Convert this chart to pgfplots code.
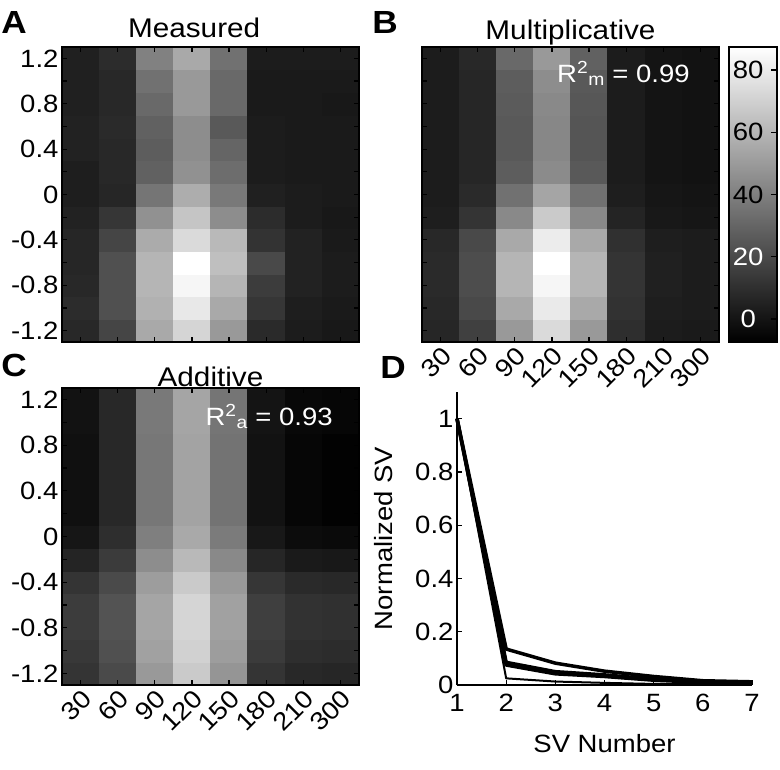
\documentclass[border=0pt]{standalone}
\usepackage{pgfplots}
\pgfplotsset{compat=1.18}
\usepackage{fontspec}
\setmainfont{Liberation Sans}[FakeStretch=1.1]
\newcommand\fs{\fontsize{25}{28}\selectfont}
\newcommand\ts{\fontsize{27}{30}\selectfont}
\newcommand\panel{\fontsize{32}{36}\selectfont\bfseries}
\newcommand\cb[1]{\makebox[31pt][c]{#1}}
\newcommand\frameit{\draw[line width=2.8pt] (rel axis cs:0,0) rectangle (rel axis cs:1,1);}
\pgfplotsset{
  /pgf/number format/assume math mode=true,
  heat/.style={
    scale only axis, width=297pt, height=295pt,
    xmin=-0.5, xmax=7.5, ymin=-1.3, ymax=1.3,
    enlargelimits=false, axis on top, clip=false,
    colormap={gr}{gray(0cm)=(0); gray(1cm)=(1)},
    point meta min=-7.4, point meta max=87.4,
    xtick={0,...,7},
    ytick={-1.2,-1.0,-0.8,-0.6,-0.4,-0.2,0,0.2,0.4,0.6,0.8,1.0,1.2},
    tick align=inside, major tick length=5pt,
    major tick style={line width=1.2pt, black},
    tick label style={font=\fs},
    title style={font=\ts, at={(0.5,1)}, anchor=base},
  },
  ylab/.style={yticklabels={-1.2,{},-0.8,{},-0.4,{},0,{},0.4,{},0.8,{},1.2}},
  noylab/.style={yticklabels={}},
  xlab/.style={xticklabels={30,60,90,120,150,180,210,300},
    xticklabel style={rotate=45, anchor=north east, inner sep=2pt}},
  noxlab/.style={xticklabels={}},
}
\begin{document}
\begin{tikzpicture}
\path[use as bounding box] (0pt,0pt) rectangle (780pt,-770pt);
% ---------- A: Measured
\begin{axis}[heat, ylab, noxlab, at={(62pt,-342pt)}, anchor=south west,
  title={Measured}, title style={at={(0.445,1)}, yshift=3pt}]
\addplot[matrix plot*, mesh/cols=8, point meta=explicit] coordinates {
(0,-1.2)[7.5] (1,-1.2)[17.9] (2,-1.2)[55.1] (3,-1.2)[71.4] (4,-1.2)[49.1] (5,-1.2)[8.2] (6,-1.2)[3.0] (7,-1.2)[1.5]
(0,-1.0)[9.0] (1,-1.0)[22.3] (2,-1.0)[58.0] (3,-1.0)[78.1] (4,-1.0)[55.1] (5,-1.0)[12.7] (6,-1.0)[3.8] (7,-1.0)[2.3]
(0,-0.8)[7.5] (1,-0.8)[22.3] (2,-0.8)[59.5] (3,-0.8)[83.3] (4,-0.8)[59.5] (5,-0.8)[14.9] (6,-0.8)[5.2] (7,-0.8)[3.0]
(0,-0.6)[6.7] (1,-0.6)[22.3] (2,-0.6)[59.5] (3,-0.6)[87.4] (4,-0.6)[63.2] (5,-0.6)[19.4] (6,-0.6)[5.2] (7,-0.6)[3.0]
(0,-0.4)[6.7] (1,-0.4)[17.9] (2,-0.4)[55.8] (3,-0.4)[72.9] (4,-0.4)[61.0] (5,-0.4)[11.6] (6,-0.4)[5.2] (7,-0.4)[2.3]
(0,-0.2)[5.2] (1,-0.2)[12.7] (2,-0.2)[46.1] (3,-0.2)[65.5] (4,-0.2)[44.7] (5,-0.2)[9.0] (6,-0.2)[3.0] (7,-0.2)[1.5]
(0,0)[3.8] (1,0)[6.7] (2,0)[35.7] (3,0)[56.5] (4,0)[37.2] (5,0)[4.5] (6,0)[3.0] (7,0)[2.3]
(0,0.2)[3.8] (1,0.2)[7.5] (2,0.2)[28.3] (3,0.2)[46.1] (4,0.2)[32.8] (5,0.2)[3.0] (6,0.2)[2.3] (7,0.2)[2.3]
(0,0.4)[5.2] (1,0.4)[7.5] (2,0.4)[26.8] (3,0.4)[44.7] (4,0.4)[29.8] (5,0.4)[3.0] (6,0.4)[2.3] (7,0.4)[2.3]
(0,0.6)[5.2] (1,0.6)[8.2] (2,0.6)[28.3] (3,0.6)[44.7] (4,0.6)[25.3] (5,0.6)[3.0] (6,0.6)[2.3] (7,0.6)[2.3]
(0,0.8)[4.5] (1,0.8)[7.5] (2,0.8)[31.3] (3,0.8)[49.1] (4,0.8)[31.3] (5,0.8)[2.3] (6,0.8)[2.3] (7,0.8)[1.5]
(0,1.0)[4.5] (1,1.0)[7.5] (2,1.0)[34.2] (3,1.0)[49.1] (4,1.0)[31.3] (5,1.0)[2.3] (6,1.0)[2.3] (7,1.0)[2.3]
(0,1.2)[4.5] (1,1.2)[9.0] (2,1.2)[40.2] (3,1.2)[55.1] (4,1.2)[34.2] (5,1.2)[3.0] (6,1.2)[3.0] (7,1.2)[3.0]
};
\frameit
\end{axis}
% ---------- B: Multiplicative
\begin{axis}[heat, noylab, xlab, at={(422pt,-342pt)}, anchor=south west,
  title={Multiplicative}, title style={yshift=1pt}]
\addplot[matrix plot*, mesh/cols=8, point meta=explicit] coordinates {
(0,-1.2)[6.7] (1,-1.2)[16.4] (2,-1.2)[49.1] (3,-1.2)[72.9] (4,-1.2)[49.1] (5,-1.2)[9.7] (6,-1.2)[3.0] (7,-1.2)[2.3]
(0,-1.0)[7.5] (1,-1.0)[19.4] (2,-1.0)[55.1] (3,-1.0)[78.9] (4,-1.0)[55.1] (5,-1.0)[11.2] (6,-1.0)[3.8] (7,-1.0)[3.0]
(0,-0.8)[8.2] (1,-0.8)[20.9] (2,-0.8)[59.5] (3,-0.8)[83.3] (4,-0.8)[59.5] (5,-0.8)[11.9] (6,-0.8)[4.5] (7,-0.8)[3.0]
(0,-0.6)[8.2] (1,-0.6)[20.9] (2,-0.6)[59.5] (3,-0.6)[87.4] (4,-0.6)[59.5] (5,-0.6)[11.9] (6,-0.6)[4.5] (7,-0.6)[3.0]
(0,-0.4)[7.5] (1,-0.4)[19.4] (2,-0.4)[55.1] (3,-0.4)[79.6] (4,-0.4)[55.1] (5,-0.4)[10.4] (6,-0.4)[3.8] (7,-0.4)[3.0]
(0,-0.2)[3.8] (1,-0.2)[11.9] (2,-0.2)[43.2] (3,-0.2)[67.0] (4,-0.2)[43.2] (5,-0.2)[6.0] (6,-0.2)[1.5] (7,-0.2)[0.8]
(0,0)[3.0] (1,0)[8.2] (2,0)[34.2] (3,0)[53.6] (4,0)[34.2] (5,0)[3.8] (6,0)[0.8] (7,0)[0.0]
(0,0.2)[3.0] (1,0.2)[6.7] (2,0.2)[26.8] (3,0.2)[43.9] (4,0.2)[25.3] (5,0.2)[3.0] (6,0.2)[0.0] (7,0.2)[-0.7]
(0,0.4)[3.0] (1,0.4)[6.7] (2,0.4)[25.3] (3,0.4)[42.4] (4,0.4)[23.8] (5,0.4)[3.0] (6,0.4)[0.0] (7,0.4)[-0.7]
(0,0.6)[3.0] (1,0.6)[6.7] (2,0.6)[25.3] (3,0.6)[42.4] (4,0.6)[23.8] (5,0.6)[3.0] (6,0.6)[0.0] (7,0.6)[-0.7]
(0,0.8)[3.0] (1,0.8)[6.7] (2,0.8)[26.1] (3,0.8)[43.2] (4,0.8)[24.6] (5,0.8)[3.0] (6,0.8)[0.0] (7,0.8)[-0.7]
(0,1.0)[3.0] (1,1.0)[6.7] (2,1.0)[26.8] (3,1.0)[44.7] (4,1.0)[25.3] (5,1.0)[3.0] (6,1.0)[0.0] (7,1.0)[-0.7]
(0,1.2)[3.0] (1,1.2)[7.5] (2,1.2)[31.3] (3,1.2)[49.1] (4,1.2)[28.3] (5,1.2)[3.0] (6,1.2)[0.0] (7,1.2)[-0.7]
};
\frameit
\node[anchor=base east, inner sep=0pt, text=white, font=\fs] at (rel axis cs:0.902,0.881)
  {R\textsuperscript{2}\textsubscript{m} = 0.99};
\end{axis}
% ---------- colour bar of B
\begin{axis}[at={(729pt,-342pt)}, anchor=south west,
  scale only axis, width=48pt, height=295pt,
  xmin=0, xmax=1, ymin=-7.4, ymax=87.4, enlargelimits=false,
  axis on top, clip=false,
  colormap={gr}{gray(0cm)=(0); gray(1cm)=(1)},
  point meta min=-7.4, point meta max=87.4,
  xtick=\empty, ytick={0,20,40,60,80},
  yticklabels={\cb{\textcolor{white}{0}},\cb{\textcolor{white}{20}},\cb{40},\cb{60},\cb{80}},
  ytick pos=right, yticklabel pos=right, yticklabel shift=-47.8pt,
  tick align=inside, major tick length=6pt,
  major tick style={line width=1.2pt, black},
  tick label style={font=\fs}]
\addplot[surf, shader=interp, mesh/rows=2, point meta=y] coordinates {(0,-7.4) (1,-7.4) (0,87.4) (1,87.4)};
\frameit
\end{axis}
% ---------- C: Additive
\begin{axis}[heat, ylab, xlab, height=297pt, at={(62pt,-685pt)}, anchor=south west,
  title={Additive}, title style={yshift=-4pt}]
\addplot[matrix plot*, mesh/cols=8, point meta=explicit] coordinates {
(0,-1.2)[11.9] (1,-1.2)[20.1] (2,-1.2)[49.1] (3,-1.2)[67.0] (4,-1.2)[47.6] (5,-1.2)[11.9] (6,-1.2)[7.5] (7,-1.2)[6.7]
(0,-1.0)[13.4] (1,-1.0)[22.3] (2,-1.0)[52.1] (3,-1.0)[69.9] (4,-1.0)[50.6] (5,-1.0)[14.2] (6,-1.0)[9.7] (7,-1.0)[9.0]
(0,-0.8)[14.9] (1,-0.8)[23.1] (2,-0.8)[53.6] (3,-0.8)[71.4] (4,-0.8)[52.1] (5,-0.8)[15.7] (6,-0.8)[11.2] (7,-0.8)[10.4]
(0,-0.6)[14.9] (1,-0.6)[23.1] (2,-0.6)[53.6] (3,-0.6)[71.4] (4,-0.6)[52.1] (5,-0.6)[15.7] (6,-0.6)[11.2] (7,-0.6)[10.4]
(0,-0.4)[11.9] (1,-0.4)[20.1] (2,-0.4)[50.6] (3,-0.4)[67.0] (4,-0.4)[49.1] (5,-0.4)[12.7] (6,-0.4)[8.2] (7,-0.4)[7.5]
(0,-0.2)[6.0] (1,-0.2)[14.2] (2,-0.2)[44.7] (3,-0.2)[61.0] (4,-0.2)[43.2] (5,-0.2)[6.7] (6,-0.2)[2.3] (7,-0.2)[1.5]
(0,0)[0.8] (1,0)[9.7] (2,0)[39.4] (3,0)[55.1] (4,0)[38.0] (5,0)[1.5] (6,0)[-2.9] (7,0)[-3.7]
(0,0.2)[-1.5] (1,0.2)[7.5] (2,0.2)[36.5] (3,0.2)[52.8] (4,0.2)[35.0] (5,0.2)[-0.7] (6,0.2)[-5.2] (7,0.2)[-6.7]
(0,0.4)[-1.5] (1,0.4)[7.5] (2,0.4)[36.5] (3,0.4)[52.8] (4,0.4)[35.0] (5,0.4)[-0.7] (6,0.4)[-5.2] (7,0.4)[-6.7]
(0,0.6)[-1.5] (1,0.6)[7.5] (2,0.6)[36.5] (3,0.6)[52.8] (4,0.6)[35.0] (5,0.6)[-0.7] (6,0.6)[-5.2] (7,0.6)[-6.7]
(0,0.8)[-1.5] (1,0.8)[7.5] (2,0.8)[36.5] (3,0.8)[52.8] (4,0.8)[35.0] (5,0.8)[-0.7] (6,0.8)[-5.2] (7,0.8)[-6.7]
(0,1.0)[-0.7] (1,1.0)[7.5] (2,1.0)[37.2] (3,1.0)[53.6] (4,1.0)[35.7] (5,1.0)[0.0] (6,1.0)[-4.4] (7,1.0)[-5.2]
(0,1.2)[-0.7] (1,1.2)[7.5] (2,1.2)[37.2] (3,1.2)[53.6] (4,1.2)[35.7] (5,1.2)[0.0] (6,1.2)[-4.4] (7,1.2)[-5.2]
};
\frameit
\node[anchor=base east, inner sep=0pt, text=white, font=\fs] at (rel axis cs:0.912,0.875)
  {R\textsuperscript{2}\textsubscript{a} = 0.93};
\end{axis}
% ---------- D: singular values
\begin{axis}[at={(457pt,-685pt)}, anchor=south west,
  scale only axis, width=295pt, height=293pt,
  xmin=1, xmax=7, ymin=0, ymax=1.1,
  axis x line*=bottom, axis y line*=left,
  axis line style={line width=2.8pt, -},
  xtick={1,2,3,4,5,6,7}, ytick={0,0.2,0.4,0.6,0.8,1},
  tick align=inside, major tick length=5pt,
  major tick style={line width=1.2pt, black},
  tick label style={font=\fs}, label style={font=\fs},
  xticklabel shift=6pt,
  xlabel={SV Number}, ylabel={Normalized SV},
  xlabel style={at={(axis description cs:0.5,0)}, anchor=north, yshift=-46pt},
  ylabel style={at={(axis description cs:-0.248,0.5)}, anchor=center},
  clip=false]
\addplot[black, line width=3.5pt, line join=round] coordinates {(1,1)(2,0.135)(3,0.082)(4,0.052)(5,0.032)(6,0.016)(7,0.012)};
\addplot[black, line width=3.5pt, line join=round] coordinates {(1,1)(2,0.085)(3,0.050)(4,0.038)(5,0.022)(6,0.012)(7,0.008)};
\addplot[black, line width=3.5pt, line join=round] coordinates {(1,1)(2,0.075)(3,0.042)(4,0.032)(5,0.018)(6,0.010)(7,0.006)};
\addplot[black, line width=2pt, line join=round] coordinates {(1,1)(2,0.025)(3,0.013)(4,0.008)(5,0.004)(6,0.003)(7,0.002)};
\end{axis}
% ---------- panel letters
\node[font=\panel] at (14pt,-22pt) {A};
\node[font=\panel] at (385pt,-22pt) {B};
\node[font=\panel] at (14pt,-365pt) {C};
\node[font=\panel] at (393pt,-367pt) {D};
\end{tikzpicture}
\end{document}
